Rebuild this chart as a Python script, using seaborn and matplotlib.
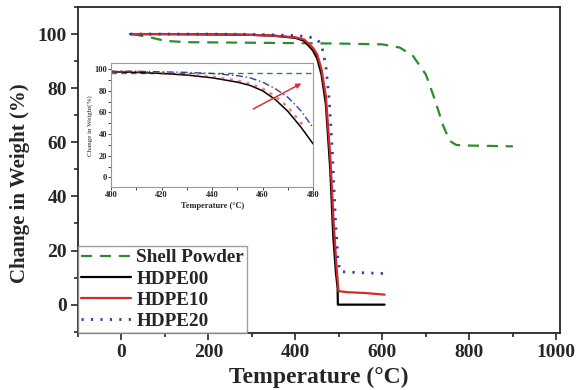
import numpy as np
import matplotlib
matplotlib.use("Agg")
import matplotlib.pyplot as plt
from matplotlib.ticker import MultipleLocator
import seaborn as sns
import pandas as pd

# Main TGA curves
shell_t = [25, 60, 100, 150, 300, 500, 600, 640, 670, 700, 720, 740, 755, 770, 800, 900]
shell_w = [100, 99, 97.5, 97, 96.8, 96.5, 96.2, 95, 92, 85, 76, 66, 60.5, 59, 58.8, 58.5]

hdpe00_t = [20, 100, 200, 300, 350, 400, 420, 440, 450, 460, 470, 480, 487, 493, 497, 497.5, 605]
hdpe00_w = [100, 100, 99.9, 99.7, 99.4, 98.6, 97.5, 94, 91, 85, 74, 50, 25, 12, 6, 0, 0]

hdpe10_t = [20, 100, 200, 300, 350, 400, 420, 440, 450, 460, 470, 480, 488, 494, 499, 520, 560, 605]
hdpe10_w = [100, 100, 99.9, 99.7, 99.4, 98.8, 98, 95, 92.5, 87, 77, 55, 30, 15, 5, 4.6, 4.3, 3.7]

hdpe20_t = [20, 100, 200, 300, 400, 430, 450, 460, 470, 478, 485, 492, 498, 503, 550, 605]
hdpe20_w = [100, 100, 100, 99.9, 99.5, 99, 98, 96, 88, 75, 56, 31, 16, 12.2, 11.8, 11.5]

# Inset (400-480 C)
in_t = [400, 410, 420, 430, 440, 450, 455, 460, 465, 470, 475, 480]
in_hdpe00 = [97.5, 97, 96, 94.5, 92, 88, 85, 80, 72, 61, 47, 31]
in_hdpe20 = [98, 98, 97.5, 97, 96, 94, 92, 88, 82, 74, 62, 46]
in_hdpe10_t = [400, 410, 420, 430, 440, 450, 455, 460, 465, 470, 476]
in_hdpe10 = [98, 97.5, 96.5, 95, 93, 89.5, 86.5, 82, 75, 65, 48]
in_shell_t = [400, 480]
in_shell = [96, 96]

labels = ["Shell Powder", "HDPE00", "HDPE10", "HDPE20"]

sns.set_style("ticks")
plt.rcParams["font.family"] = ["Liberation Serif", "DejaVu Serif"]
plt.rcParams["font.weight"] = "bold"

green = "#2e8b2e"
red = "#d42a2a"
blue = "#3a3aa8"

fig = plt.figure(figsize=(5.82, 3.9), dpi=100)
ax = fig.add_axes([0.134, 0.146, 0.828, 0.836])

sns.lineplot(x=shell_t, y=shell_w, ax=ax, color=green, lw=1.6, label=labels[0])
sns.lineplot(x=hdpe00_t, y=hdpe00_w, ax=ax, color="black", lw=1.6, label=labels[1], sort=False)
sns.lineplot(x=hdpe10_t, y=hdpe10_w, ax=ax, color=red, lw=1.6, label=labels[2])
sns.lineplot(x=hdpe20_t, y=hdpe20_w, ax=ax, color=blue, lw=2, label=labels[3])
ax.lines[0].set_dashes([5, 3.5])
ax.lines[3].set_dashes([0.8, 2.6])

ax.set_xlim(-100, 1008)
ax.set_ylim(-10.5, 110)
ax.xaxis.set_major_locator(MultipleLocator(200))
ax.xaxis.set_minor_locator(MultipleLocator(100))
ax.yaxis.set_major_locator(MultipleLocator(20))
ax.yaxis.set_minor_locator(MultipleLocator(10))
ax.tick_params(which="both", direction="out", width=1.2, labelsize=14, right=False, top=False)
ax.tick_params(which="major", length=5, pad=3)
ax.tick_params(which="minor", length=3)
for s in ax.spines.values():
    s.set_linewidth(1.3)
    s.set_visible(True)
ax.set_xlabel("Temperature (°C)", fontsize=17, fontweight="bold", labelpad=4)
ax.set_ylabel("Change in Weight (%)", fontsize=15, fontweight="bold")
ax.yaxis.set_label_coords(-0.1, 0.46)

leg = ax.legend(loc="lower left", bbox_to_anchor=(0, 0), fontsize=13.8, frameon=True,
                fancybox=False, borderaxespad=0, handlelength=2.6, labelspacing=0.2,
                borderpad=0.15, handletextpad=0.3)
leg.get_frame().set_edgecolor("#888888")
leg.get_frame().set_linewidth(1)
for t in leg.get_texts():
    t.set_fontweight("bold")

# Inset
axi = fig.add_axes([0.191, 0.52, 0.347, 0.318])
sns.lineplot(x=in_shell_t, y=in_shell, ax=axi, color=green, lw=1)
sns.lineplot(x=in_t, y=in_hdpe00, ax=axi, color="black", lw=1.1)
sns.lineplot(x=in_hdpe10_t, y=in_hdpe10, ax=axi, color=red, lw=1.8, alpha=0.6)
sns.lineplot(x=in_t, y=in_hdpe20, ax=axi, color=blue, lw=1)
axi.lines[0].set_dashes([4, 3])
axi.lines[2].set_dashes([1.2, 2.2])
axi.lines[3].set_dashes([5, 2, 1, 2])
axi.annotate("", xy=(476.3, 88), xytext=(455.3, 62),
             arrowprops=dict(arrowstyle="-|>", color="#e03030", lw=1.1, mutation_scale=7))
axi.set_xlim(400, 480)
axi.set_ylim(-9, 105.5)
axi.xaxis.set_major_locator(MultipleLocator(20))
axi.xaxis.set_minor_locator(MultipleLocator(10))
axi.yaxis.set_major_locator(MultipleLocator(20))
axi.yaxis.set_minor_locator(MultipleLocator(10))
axi.tick_params(which="both", direction="out", labelsize=6, length=2, width=0.6, pad=1)
axi.set_xlabel("Temperature (°C)", fontsize=6, fontweight="bold", labelpad=2)
axi.set_ylabel("Change in Weight(%)", fontsize=5, fontweight="normal", labelpad=1)
for s in axi.spines.values():
    s.set_visible(True)
    s.set_color("#999999")
    s.set_linewidth(0.8)

fig.savefig("out.png", dpi=100)
